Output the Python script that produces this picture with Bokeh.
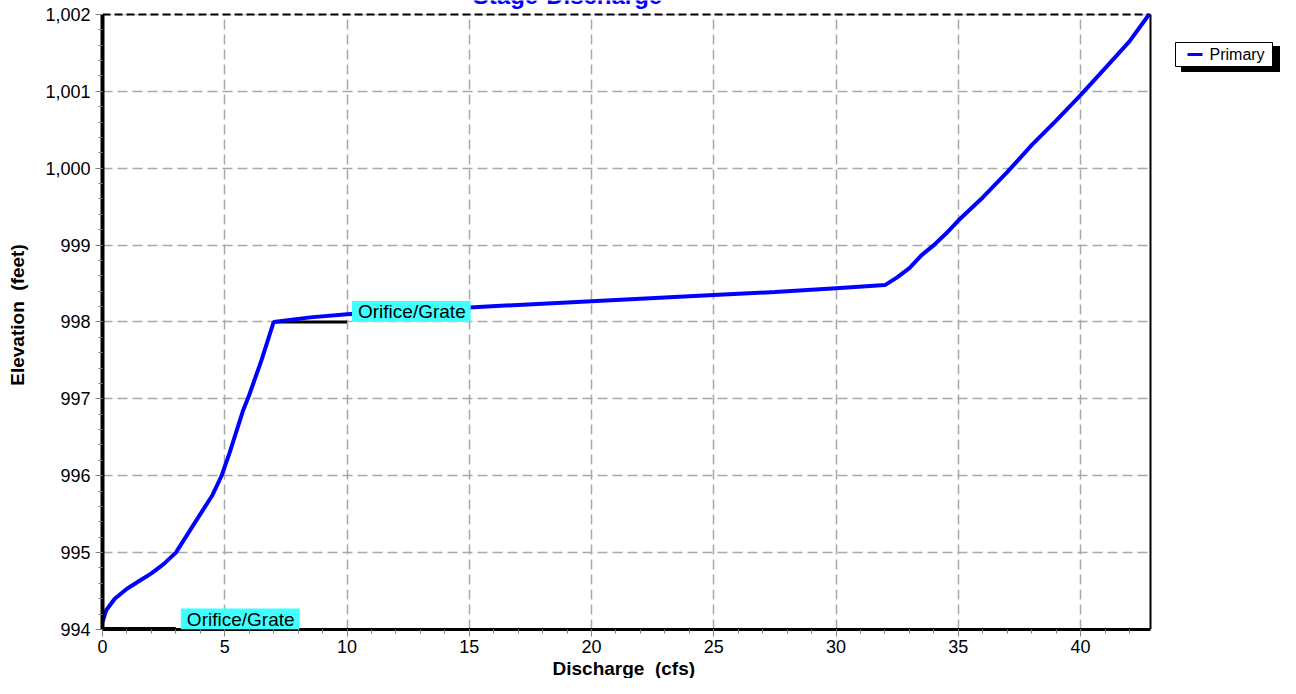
from bokeh.plotting import figure
from bokeh.models import (Range1d, SingleIntervalTicker, NumeralTickFormatter, Label,
                          BoxAnnotation, Title)
from bokeh.embed import file_html
from bokeh.resources import INLINE

# ---- data ----
discharge = [0.0, 0.15, 0.5, 1.0, 1.5, 2.0, 2.5, 3.0, 3.5, 4.0, 4.5, 4.87, 5.2, 5.5,
             5.75, 6.0, 6.5, 7.0, 8.5, 10.0, 15.0, 20.0, 25.0, 27.5, 30.0, 32.0,
             32.5, 33.0, 33.5, 34.0, 34.5, 35.0, 36.0, 37.0, 38.0, 39.0, 40.0,
             41.0, 42.0, 42.8]
elevation = [994.1, 994.25, 994.4, 994.53, 994.63, 994.73, 994.85, 995.0, 995.25,
             995.5, 995.75, 996.0, 996.3, 996.6, 996.85, 997.05, 997.5, 998.0,
             998.06, 998.1, 998.19, 998.27, 998.35, 998.39, 998.44, 998.48,
             998.58, 998.7, 998.87, 999.0, 999.15, 999.32, 999.62, 999.95,
             1000.3, 1000.62, 1000.95, 1001.3, 1001.65, 1002.0]

grate_upper_x = [7.0, 10.0]
grate_upper_y = [998.0, 998.0]
grate_lower_x = [0.0, 3.0]
grate_lower_y = [994.0, 994.0]
marker_labels = ["Orifice/Grate", "Orifice/Grate"]
marker_x = [10.0, 3.0]
marker_y = [998.0, 994.0]

x_min, x_max = 0.0, 42.86
y_min, y_max = 994.0, 1002.0

title_text = "Stage-Discharge"
x_label = "Discharge \u00a0(cfs)"
y_label = "Elevation \u00a0(feet)"
legend_text = "Primary"

FONT = "Liberation Sans"
W, H = 1280, 678
BL, BR, BT, BB = 102, 0, 0, 48
FW, FH = W - BL - BR, H - BT - BB
PLOT_W = 1048      # visible plotting area width (px)
PLOT_TOP = 14      # visible plotting area starts this far below the canvas top
x_end = x_max + (x_max - x_min) * (FW - PLOT_W) / PLOT_W
y_end = y_max + (y_max - y_min) * PLOT_TOP / (FH - PLOT_TOP)


def sx(px):   # canvas x -> frame-relative screen x
    return px - BL


def sy(py):   # canvas y -> frame-relative screen y (measured upward)
    return BT + FH - py


p = figure(width=W, height=H, output_backend="svg", toolbar_location=None,
           x_range=Range1d(x_min, x_end), y_range=Range1d(y_min, y_end),
           min_border_left=BL, min_border_right=BR, min_border_top=BT,
           min_border_bottom=BB)
p.outline_line_color = None
p.background_fill_color = "white"
p.border_fill_color = "white"

# axes
p.xaxis.ticker = SingleIntervalTicker(interval=5, num_minor_ticks=5)
p.yaxis.ticker = SingleIntervalTicker(interval=1, num_minor_ticks=5)
p.yaxis.formatter = NumeralTickFormatter(format="0,0")
p.xaxis.bounds = (x_min, x_max)
p.yaxis.bounds = (y_min, y_max)
for ax in (p.xaxis[0], p.yaxis[0]):
    ax.major_label_text_font = FONT
    ax.major_label_text_font_size = "18px"
    ax.major_label_text_color = "black"
    ax.axis_label_text_font = FONT
    ax.axis_label_text_font_size = "19px"
    ax.axis_label_text_font_style = "bold"
    ax.axis_label_text_color = "black"
    ax.major_tick_line_color = "#808080"
    ax.minor_tick_line_color = "#808080"
    ax.major_tick_in = 0
    ax.minor_tick_in = 0
    ax.major_tick_out = 7
    ax.minor_tick_out = 4
    ax.axis_line_color = "black"
p.yaxis.axis_label = y_label
p.xaxis.axis_line_width = 3
p.yaxis.axis_line_width = 4
p.xaxis.major_label_standoff = 3
p.yaxis.major_label_standoff = 5
p.yaxis.axis_label_standoff = 14

# x axis title, centred under the visible plotting area
p.add_layout(Title(text=x_label, align="left", offset=450, standoff=0,
                   text_font=FONT, text_font_size="19px", text_font_style="bold",
                   text_color="black"), "below")

p.xgrid.grid_line_color = "#A8A8A8"
p.ygrid.grid_line_color = "#A8A8A8"
p.xgrid.grid_line_dash = "10 5"
p.ygrid.grid_line_dash = "10 5"
p.xgrid.grid_line_width = 1.5
p.ygrid.grid_line_width = 1.5

# blank the parts of the frame that only host the legend and the title
p.add_layout(BoxAnnotation(left=x_max, fill_color="white", fill_alpha=1, line_color=None,
                           level="underlay"))
p.add_layout(BoxAnnotation(bottom=y_max, fill_color="white", fill_alpha=1, line_color=None,
                           level="underlay"))

# frame borders (top dashed, right solid)
p.line([x_min, x_max], [y_max, y_max], line_color="black", line_width=2, line_dash="8 4")
p.line([x_max, x_max], [y_min, y_max], line_color="black", line_width=2)

# series
p.line(grate_upper_x, grate_upper_y, line_color="black", line_width=3)
p.line(grate_lower_x, grate_lower_y, line_color="black", line_width=5)
p.line(discharge, elevation, line_color="#0000FF", line_width=4)

for t, xx, yy in zip(marker_labels, marker_x, marker_y):
    p.add_layout(Label(x=xx, y=yy, text=t, x_offset=5, y_offset=0,
                       text_font=FONT, text_font_size="19px", text_color="black",
                       text_baseline="bottom", background_fill_color="#3FFFFF",
                       padding=dict(left=6, right=5, top=0, bottom=0)))

# title (cut off at the top edge, as in the reference)
p.add_layout(Label(x=sx(567), y=sy(-4), x_units="screen", y_units="screen",
                   text=title_text, text_align="center", text_baseline="alphabetic",
                   text_font=FONT, text_font_size="24px", text_font_style="bold",
                   text_color="#0000FF"))

# legend with drop shadow
p.add_layout(BoxAnnotation(left=sx(1181), right=sx(1280), top=sy(47), bottom=sy(72),
                           left_units="screen", right_units="screen", top_units="screen",
                           bottom_units="screen", fill_color="black", fill_alpha=1,
                           line_color="black", line_alpha=1))
p.add_layout(BoxAnnotation(left=sx(1175), right=sx(1272), top=sy(43), bottom=sy(67),
                           left_units="screen", right_units="screen", top_units="screen",
                           bottom_units="screen", fill_color="white", fill_alpha=1,
                           line_color="black", line_alpha=1, line_width=1))
p.add_layout(BoxAnnotation(left=sx(1187), right=sx(1202), top=sy(53.5), bottom=sy(56.5),
                           left_units="screen", right_units="screen", top_units="screen",
                           bottom_units="screen", fill_color="#0000FF", fill_alpha=1,
                           line_color=None))
p.add_layout(Label(x=sx(1209), y=sy(55), x_units="screen", y_units="screen",
                   text=legend_text, text_baseline="middle", text_font=FONT,
                   text_font_size="16px", text_color="black"))

open("out.html", "w").write(file_html(p, INLINE))
